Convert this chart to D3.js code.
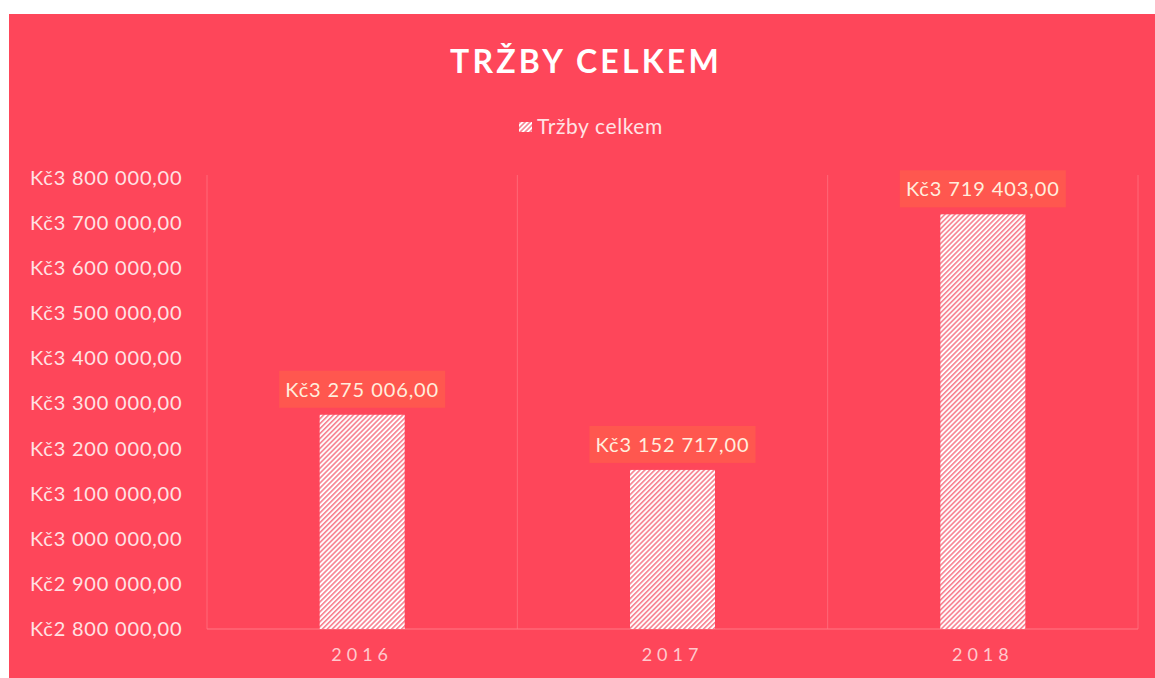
<!DOCTYPE html>
<html lang="cs">
<head>
<meta charset="UTF-8" />
<title>Tržby celkem</title>
<style>
  body { margin: 0; background: #fff; }
  svg { display: block; }
  svg text { font-family: Lato, "Open Sans", sans-serif; }
</style>
</head>
<body>
<svg width="1155" height="678"></svg>
<script src="https://d3js.org/d3.v7.min.js"></script>
<script>
const years = ['2016', '2017', '2018'];
const revenue = [3275006, 3152717, 3719403];
const yTicks = [2800000, 2900000, 3000000, 3100000, 3200000, 3300000, 3400000, 3500000, 3600000, 3700000, 3800000];
const chartTitle = 'TRŽBY CELKEM';
const seriesName = 'Tržby celkem';

const svg = d3.select('svg');
const bg = '#fe465a';

const cz = d3.formatLocale({ decimal: ',', thousands: ' ', grouping: [3], currency: ['Kč', ''] });
const money = cz.format('$,.2f');

// hatched fill used by the bars and the legend key
const defs = svg.append('defs');
const pat = defs.append('pattern')
    .attr('id', 'hatch')
    .attr('patternUnits', 'userSpaceOnUse')
    .attr('width', 3.5).attr('height', 3.5)
    .attr('patternTransform', 'rotate(45)');
pat.append('rect').attr('width', 3.5).attr('height', 3.5).attr('fill', '#fff');
pat.append('rect').attr('width', 1.6).attr('height', 3.5).attr('fill', '#f7808f');

svg.append('rect')
    .attr('x', 9).attr('y', 14)
    .attr('width', 1146).attr('height', 664)
    .attr('fill', bg);

const x = d3.scaleBand().domain(years).range([207, 1138]).paddingInner(0).paddingOuter(0);
const y = d3.scaleLinear().domain([2800000, 3800000]).range([629, 178]);

// vertical gridlines at the category edges
const edges = years.map((d) => x(d)).concat([x.range()[1]]);
svg.append('g').selectAll('line').data(edges).join('line')
    .attr('x1', (d) => d).attr('x2', (d) => d)
    .attr('y1', y(3800000) - 3).attr('y2', y(2800000))
    .attr('stroke', '#ff6878').attr('stroke-width', 1);

// y axis labels, left aligned
const yAxis = svg.append('g').attr('transform', 'translate(30,0)')
    .call(d3.axisLeft(y).tickValues(yTicks).tickFormat(money).tickSize(0).tickPadding(0));
yAxis.select('.domain').remove();
yAxis.selectAll('text')
    .attr('text-anchor', 'start')
    .attr('fill', '#ffe2e4')
    .style('font-family', 'Lato, sans-serif')
    .style('font-size', '20px')
    .style('letter-spacing', '0.8px');

// baseline
svg.append('line')
    .attr('x1', x.range()[0]).attr('x2', x.range()[1])
    .attr('y1', y(2800000)).attr('y2', y(2800000))
    .attr('stroke', '#ff7884').attr('stroke-width', 1.2);

// x axis labels
const xAxis = svg.append('g').attr('transform', `translate(0,${y(2800000)})`)
    .call(d3.axisBottom(x).tickSize(0).tickPadding(19));
xAxis.select('.domain').remove();
xAxis.selectAll('text')
    .attr('fill', '#ffc9cd')
    .style('font-family', 'Lato, sans-serif')
    .style('font-size', '18px')
    .style('letter-spacing', '5px');

// bars
const barW = 85;
svg.append('g').selectAll('rect').data(revenue).join('rect')
    .attr('x', (d, i) => x(years[i]) + x.bandwidth() / 2 - barW / 2)
    .attr('y', (d) => y(d))
    .attr('width', barW)
    .attr('height', (d) => y(2800000) - y(d))
    .attr('fill', 'url(#hatch)');

// data labels with boxes
const lab = svg.append('g').selectAll('g').data(revenue).join('g')
    .attr('transform', (d, i) => `translate(${x(years[i]) + x.bandwidth() / 2},${y(d) - 25})`);
lab.append('rect')
    .attr('x', -83).attr('y', -19)
    .attr('width', 166).attr('height', 37)
    .attr('fill', '#ff574f');
lab.append('text')
    .attr('text-anchor', 'middle')
    .attr('dy', '0.35em')
    .attr('fill', '#ffeedd')
    .style('font-size', '20px')
    .style('letter-spacing', '0.9px')
    .text((d) => money(d));

// title
svg.append('text')
    .attr('x', 586).attr('y', 73)
    .attr('text-anchor', 'middle')
    .attr('fill', '#fff')
    .style('font-size', '32px')
    .style('font-weight', 'bold')
    .style('letter-spacing', '3.2px')
    .text(chartTitle);

// legend
const leg = svg.append('g').attr('transform', 'translate(519,127)');
leg.append('rect').attr('x', 0).attr('y', -5).attr('width', 13).attr('height', 10).attr('fill', 'url(#hatch)');
leg.append('text')
    .attr('x', 18).attr('dy', '0.35em')
    .attr('fill', '#ffe2e4')
    .style('font-size', '21px')
    .style('letter-spacing', '0.6px')
    .text(seriesName);
</script>
</body>
</html>
